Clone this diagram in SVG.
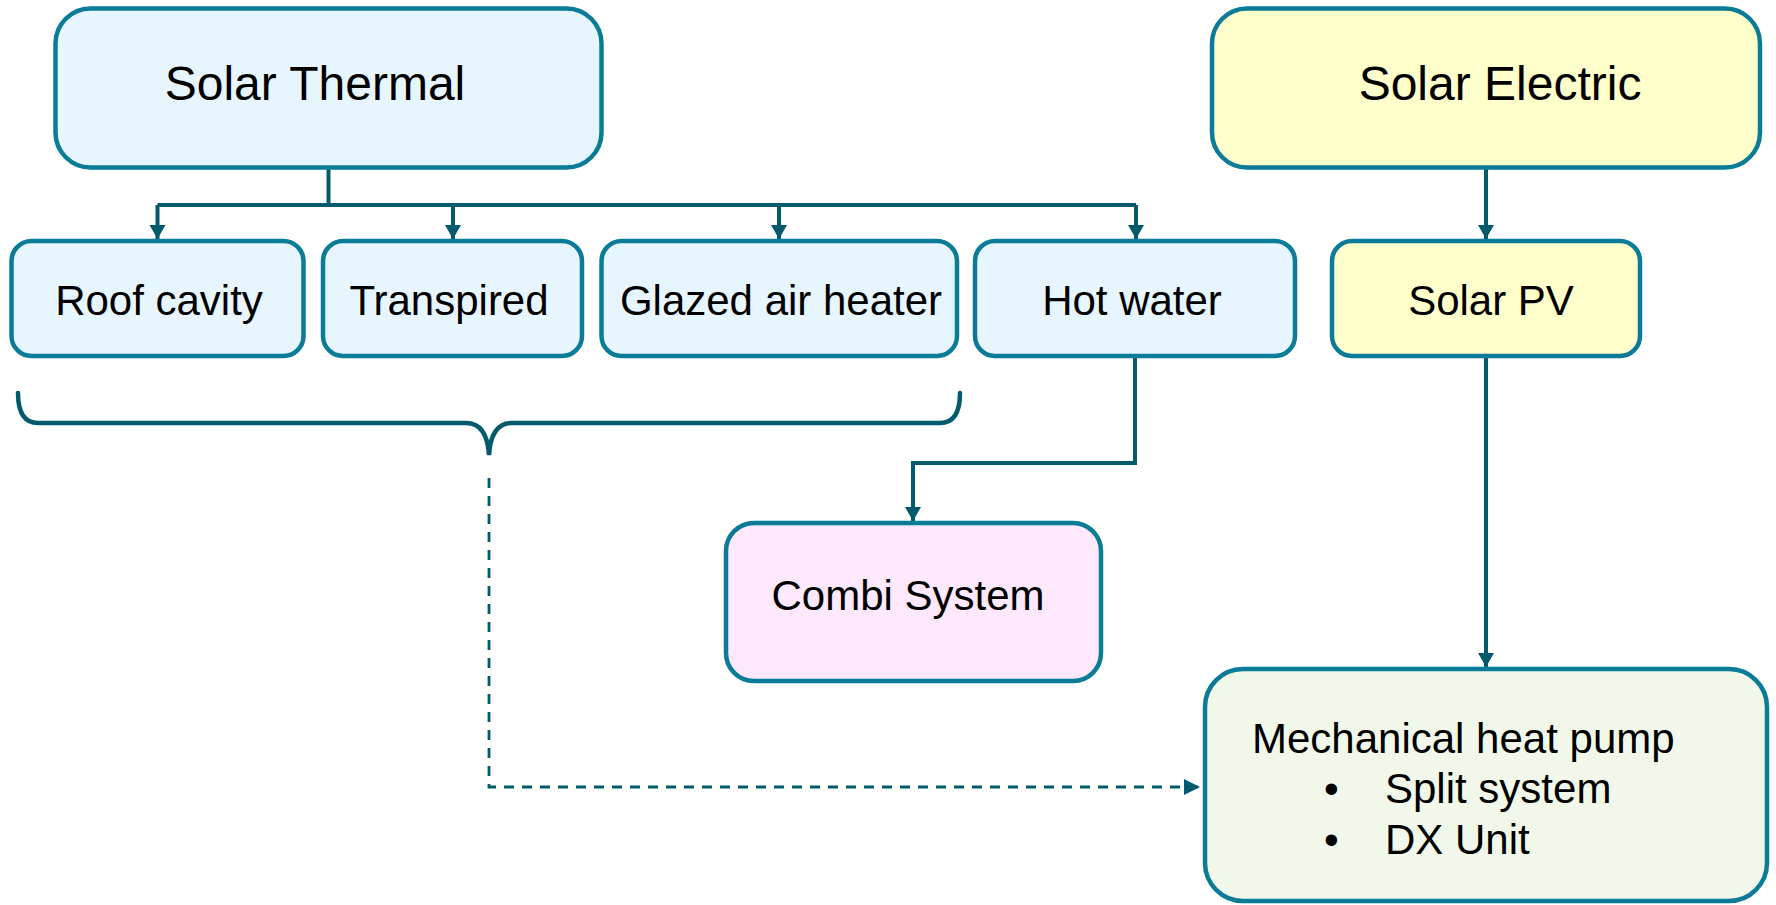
<svg xmlns="http://www.w3.org/2000/svg" width="1776" height="905" viewBox="0 0 1776 905">
<style>
.box{stroke:#0B7C97;stroke-width:4.5}
.blue{fill:#E7F5FE}
.yellow{fill:#FFFFCC}
.pink{fill:#FDE8FD}
.green{fill:#F1F8EA}
text{font-family:"Liberation Sans",Arial,sans-serif;fill:#000}
.big{font-size:48px}
.mid{font-size:42px}
.conn{fill:none;stroke:#035A6C;stroke-width:4}
.dash{fill:none;stroke:#035A6C;stroke-width:2.8;stroke-dasharray:10 8}
.brace{fill:none;stroke:#035A6C;stroke-width:4.5;stroke-linecap:round}
</style>
<defs>
<marker id="ah" markerUnits="userSpaceOnUse" markerWidth="16" markerHeight="17" refX="14" refY="8" orient="auto">
<path d="M0,0 L14,8 L0,16 z" fill="#035A6C"/>
</marker>
<marker id="ahs" markerUnits="userSpaceOnUse" markerWidth="17" markerHeight="17" refX="16" refY="8" orient="auto">
<path d="M0,0 L16,8 L0,16 z" fill="#035A6C"/>
</marker>
</defs>
<g id="connectors">
<path class="conn" d="M328.5,168 V205"/>
<path class="conn" d="M157.5,205 H1136"/>
<path class="conn" d="M157.5,205 V239" marker-end="url(#ah)"/>
<path class="conn" d="M453,205 V239" marker-end="url(#ah)"/>
<path class="conn" d="M779,205 V239" marker-end="url(#ah)"/>
<path class="conn" d="M1136,205 V239" marker-end="url(#ah)"/>
<path class="conn" d="M1486,168 V239" marker-end="url(#ah)"/>
<path class="conn" d="M1486,356 V667" marker-end="url(#ah)"/>
<path class="conn" d="M1135,356 V463 H913 V521" marker-end="url(#ah)"/>
<path class="brace" d="M18,393 Q18,423 38,423 H466 Q487,423 489,455 Q491,423 512,423 H940 Q960,423 960,393"/>
<path class="dash" d="M489,478 V787 H1200" marker-end="url(#ahs)"/>
</g>
<g id="solar-thermal">
<rect class="box blue" x="55.5" y="8.5" width="546" height="159" rx="35"/>
<text class="big" x="315" y="100" text-anchor="middle">Solar Thermal</text>
</g>
<g id="solar-electric">
<rect class="box yellow" x="1212" y="8.5" width="548" height="159" rx="35"/>
<text class="big" x="1500" y="100" text-anchor="middle">Solar Electric</text>
</g>
<g id="roof-cavity">
<rect class="box blue" x="11.5" y="241" width="292" height="115" rx="20"/>
<text class="mid" x="159" y="315" text-anchor="middle">Roof cavity</text>
</g>
<g id="transpired">
<rect class="box blue" x="323" y="241" width="259" height="115" rx="20"/>
<text class="mid" x="449" y="315" text-anchor="middle">Transpired</text>
</g>
<g id="glazed-air-heater">
<rect class="box blue" x="601.5" y="241" width="355.5" height="115" rx="20"/>
<text class="mid" x="781" y="315" text-anchor="middle">Glazed air heater</text>
</g>
<g id="hot-water">
<rect class="box blue" x="975" y="241" width="320" height="115" rx="20"/>
<text class="mid" x="1132" y="315" text-anchor="middle">Hot water</text>
</g>
<g id="solar-pv">
<rect class="box yellow" x="1332" y="241" width="308" height="115" rx="20"/>
<text class="mid" x="1491" y="315" text-anchor="middle">Solar PV</text>
</g>
<g id="combi-system">
<rect class="box pink" x="726" y="523" width="375" height="158" rx="28"/>
<text class="mid" x="908" y="610" text-anchor="middle">Combi System</text>
</g>
<g id="mechanical-heat-pump">
<rect class="box green" x="1205" y="669" width="562" height="232" rx="38"/>
<text class="mid" x="1252" y="753">Mechanical heat pump</text>
<text class="mid" x="1324" y="803">•</text>
<text class="mid" x="1385" y="803">Split system</text>
<text class="mid" x="1324" y="854">•</text>
<text class="mid" x="1385" y="854">DX Unit</text>
</g>
</svg>
